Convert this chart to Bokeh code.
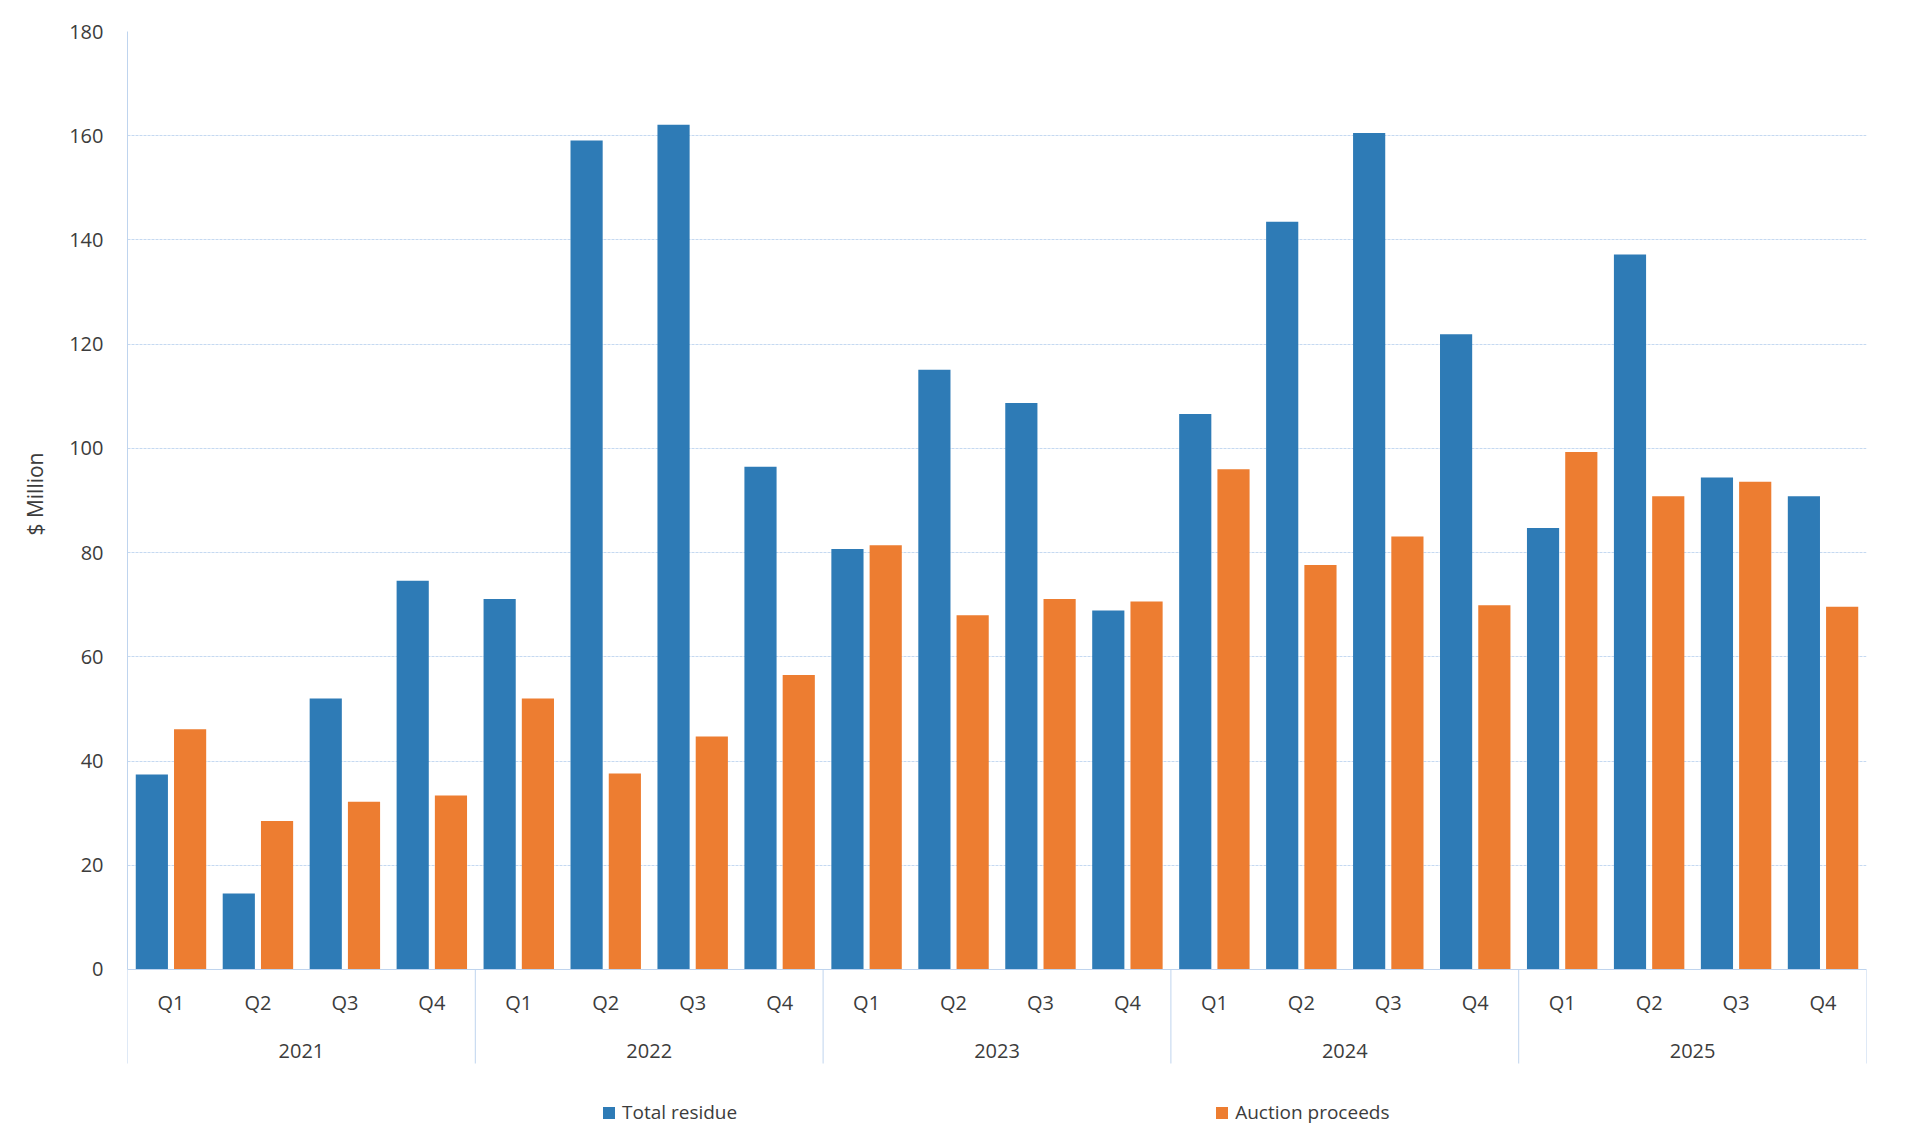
import numpy as np
from bokeh.plotting import figure
from bokeh.models import Range1d, FixedTicker, ColumnDataSource, Legend, LegendItem, Span, Title
from bokeh.transform import dodge
from bokeh.core.properties import value
from bokeh.embed import file_html
from bokeh.resources import INLINE

# ---------------- data ----------------
years = ["2021", "2022", "2023", "2024", "2025"]
quarters = ["Q1", "Q2", "Q3", "Q4"]
total_residue = [37.4, 14.6, 52.0, 74.6,
                 71.1, 159.1, 162.1, 96.5,
                 80.7, 115.1, 108.7, 68.9,
                 106.6, 143.5, 160.5, 121.9,
                 84.7, 137.2, 94.4, 90.8]
auction_proceeds = [46.1, 28.5, 32.2, 33.4,
                    52.0, 37.6, 44.7, 56.5,
                    81.4, 68.0, 71.1, 70.6,
                    96.0, 77.6, 83.1, 69.9,
                    99.3, 90.8, 93.6, 69.6]
y_ticks = [0, 20, 40, 60, 80, 100, 120, 140, 160, 180]
series_names = ["Total residue", "Auction proceeds"]
y_title = "$ Million"

# ---------------- style ----------------
BLUE = "#2E7BB6"
ORANGE = "#ED7D31"
AXIS = "#BFD4EE"
GRID = "#C5D9F1"
TXT = "#3C3C3C"
FONT = "Open Sans"

Y_MIN = -32.24        # room below zero for category labels and legend
SEP_BOTTOM = -18.04   # depth of the group separator lines
Q_LABEL_Y = -6.41
YEAR_LABEL_Y = -15.68

n_q = len(quarters)
n = len(years) * n_q
xs = np.arange(n) + 0.5
quarter_labels = [q for _ in years for q in quarters]
year_centers = np.arange(len(years)) * n_q + n_q / 2
separators = np.arange(len(years) + 1) * n_q

src = ColumnDataSource(dict(x=xs, total=total_residue, auction=auction_proceeds))

p = figure(width=1921, height=1137, x_range=Range1d(0, n), y_range=Range1d(Y_MIN, y_ticks[-1]),
           x_axis_location=None, output_backend="svg", toolbar_location=None,
           min_border_left=127, min_border_right=55, min_border_top=31, min_border_bottom=0)
p.outline_line_color = None
p.xgrid.visible = False

ax = p.yaxis[0]
ax.ticker = FixedTicker(ticks=y_ticks)
ax.bounds = (y_ticks[0], y_ticks[-1])
ax.major_tick_line_color = None
ax.minor_tick_line_color = None
ax.major_tick_in = 0
ax.major_tick_out = 0
ax.axis_line_color = AXIS
ax.major_label_text_font = FONT
ax.major_label_text_font_size = "20px"
ax.major_label_text_color = TXT
ax.major_label_standoff = 24
p.ygrid.grid_line_color = GRID
p.ygrid.grid_line_dash = "3 1"

# y-axis title, placed along the 0..180 value span
p.add_layout(Title(text=y_title, align="right", offset=421, standoff=35,
                   text_font=FONT, text_font_size="21px", text_font_style="normal",
                   text_color=TXT), "left")

r1 = p.vbar(x=dodge("x", -0.22), top="total", width=0.37, source=src,
            fill_color=BLUE, line_color=None)
r2 = p.vbar(x=dodge("x", 0.22), top="auction", width=0.37, source=src,
            fill_color=ORANGE, line_color=None)
p.add_layout(Span(location=0, dimension="width", line_color=AXIS, line_width=1))

# category axis: separators, quarter labels, year labels
p.segment(x0=separators, y0=[0] * len(separators), x1=separators, y1=[SEP_BOTTOM] * len(separators),
          line_color=AXIS, line_width=1)
p.text(x=xs, y=[Q_LABEL_Y] * n, text=quarter_labels, text_font=value(FONT),
       text_font_size=value("20px"), text_color=TXT,
       text_align="center", text_baseline="middle")
p.text(x=year_centers, y=[YEAR_LABEL_Y] * len(years), text=years, text_font=value(FONT),
       text_font_size=value("20px"), text_color=TXT,
       text_align="center", text_baseline="middle")

legend = Legend(items=[LegendItem(label=series_names[0], renderers=[r1]),
                       LegendItem(label=series_names[1], renderers=[r2])],
                orientation="horizontal", location=(474, 12),
                glyph_width=15, glyph_height=15, label_standoff=6, spacing=477,
                padding=0, margin=0, border_line_color=None, background_fill_alpha=0,
                label_text_font=FONT, label_text_font_size="19px", label_text_color=TXT)
p.add_layout(legend)

open("out.html", "w").write(file_html(p, INLINE))
